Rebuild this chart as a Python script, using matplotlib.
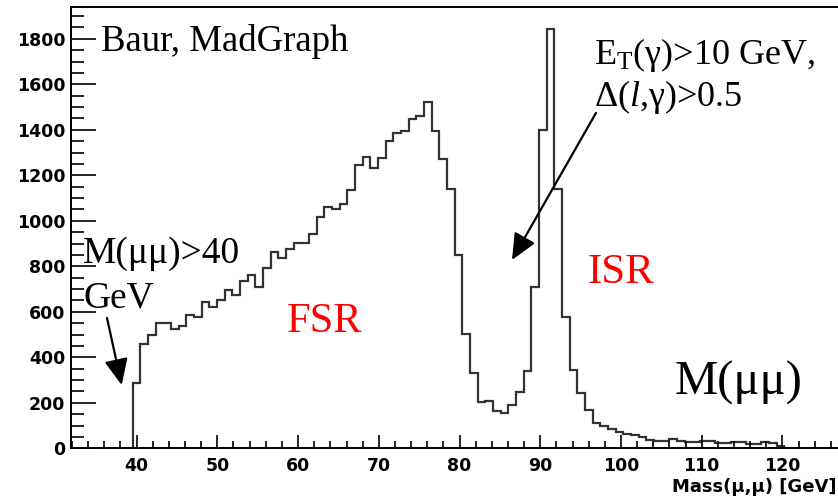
import matplotlib
matplotlib.use('Agg')
import matplotlib.pyplot as plt
import numpy as np
from matplotlib.ticker import MultipleLocator

# M(mu,mu) histogram, bins of 0.95 GeV starting at 39.5 GeV
bin_lo = 39.5
bin_width = 0.95
counts = [288, 458, 500, 549, 549, 525, 536, 585, 576, 645,
          623, 652, 696, 674, 737, 762, 708, 791, 864, 838,
          875, 903, 903, 941, 1018, 1059, 1050, 1075, 1137, 1245,
          1280, 1233, 1275, 1352, 1388, 1393, 1446, 1462, 1522, 1393,
          1270, 1138, 848, 504, 330, 202, 207, 165, 156, 190,
          248, 341, 710, 1400, 1843, 1138, 578, 344, 242, 170,
          112, 100, 83, 71, 63, 58, 51, 36, 33, 33,
          40, 33, 26, 29, 33, 32, 22, 22, 27, 26,
          20, 20, 26, 22, 10]
x_ticks = [40, 50, 60, 70, 80, 90, 100, 110, 120]
y_ticks = [0, 200, 400, 600, 800, 1000, 1200, 1400, 1600, 1800]

edges = bin_lo + bin_width * np.arange(len(counts) + 1)

plt.rcParams['mathtext.fontset'] = 'custom'
plt.rcParams['mathtext.rm'] = 'Liberation Serif'
plt.rcParams['mathtext.it'] = 'Liberation Serif:italic'

W, H = 838, 497
fig = plt.figure(figsize=(W / 100, H / 100), dpi=100)
ax = fig.add_axes([71 / W, 48.7 / H, 776 / W, 441.3 / H])

ax.stairs(counts, edges, color='#333333', linewidth=1.6, baseline=0)

ax.set_xlim(31.87, 128.0)
ax.set_ylim(0, 1940)
ax.set_xticks(x_ticks)
ax.set_yticks(y_ticks)
ax.xaxis.set_minor_locator(MultipleLocator(2))
ax.yaxis.set_minor_locator(MultipleLocator(50))

for s in ['top', 'left', 'bottom', 'right']:
    ax.spines[s].set_linewidth(1.4)

ax.tick_params(axis='x', which='major', direction='in', length=9.5, width=1.2,
               pad=6, top=False)
ax.tick_params(axis='x', which='minor', direction='in', length=5, width=1.2, top=False)
ax.tick_params(axis='y', which='major', direction='in', length=18, width=1.2,
               pad=4, right=False)
ax.tick_params(axis='y', which='minor', direction='in', length=9, width=1.2, right=False)
for lab in ax.get_xticklabels() + ax.get_yticklabels():
    lab.set_fontfamily('DejaVu Sans')
    lab.set_fontweight('bold')
    lab.set_fontsize(12.5)

def px(x, y):
    return x / W, 1 - y / H

serif = 'Liberation Serif'
fig.text(*px(836, 492), 'Mass(μ,μ) [GeV]', ha='right', va='baseline',
         fontsize=13, fontweight='bold', family='DejaVu Sans')

fig.text(*px(101, 51), 'Baur, MadGraph', family=serif, fontsize=26.5, va='baseline')
fig.text(*px(83, 263), 'M(μμ)>40', family=serif, fontsize=27, va='baseline')
fig.text(*px(83, 307), 'GeV', family=serif, fontsize=27, va='baseline')
fig.text(*px(287, 332), 'FSR', family=serif, fontsize=30.5, va='baseline', color='red')
fig.text(*px(587, 283), 'ISR', family=serif, fontsize=31, va='baseline', color='red')
fig.text(*px(675, 395), 'M(μμ)', family=serif, fontsize=35, va='baseline')
fig.text(*px(594, 64), r'E$_{\mathrm{T}}$(γ)>10 GeV,', family=serif, fontsize=26,
         va='baseline')
fig.text(*px(594, 106), r'Δ($\mathit{l}$,γ)>0.5', family=serif, fontsize=26,
         va='baseline')

arrow = dict(arrowstyle='-|>,head_length=0.8,head_width=0.36', mutation_scale=20,
             color='black', lw=1.6, shrinkA=0, shrinkB=0)
ax.annotate('', xy=(38.15, 278), xytext=(36.33, 573), arrowprops=arrow)
ax.annotate('', xy=(86.5, 828), xytext=(96.9, 1474), arrowprops=arrow)

fig.savefig('out.png', dpi=100, facecolor='white')
